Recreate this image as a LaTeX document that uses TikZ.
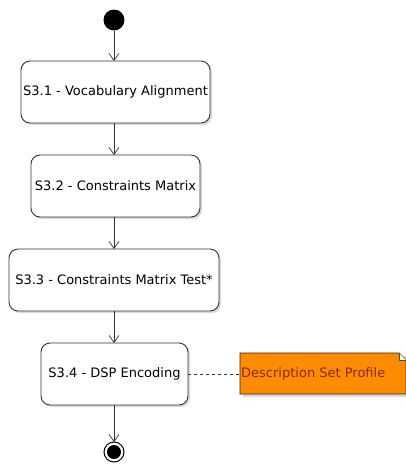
\documentclass[tikz,border=0pt]{standalone}
\usepackage{fontspec}
\setmainfont{DejaVu Sans}
\usetikzlibrary{arrows.meta,shadows}
\definecolor{noteorange}{HTML}{FF8C00}
\definecolor{notetext}{HTML}{8B2A10}
\begin{document}
\begin{tikzpicture}[x=1pt,y=-1pt,
  actbox/.style={draw=black!80, line width=0.9pt, rounded corners=9pt, fill=white,
    drop shadow={shadow xshift=2pt, shadow yshift=-2pt, fill=black!25, opacity=0.6}},
  flow/.style={draw=black!80, line width=0.7pt, -{Straight Barb[length=7pt,width=10pt]}},
  lbl/.style={font=\fontsize{13}{15}\selectfont}]
\useasboundingbox (0,0) rectangle (406,467);
% start
\fill[black] (114,20) circle (10.5);
\coordinate (start) at (114,30.5);
% boxes
\draw[actbox] (21,61) rectangle (210,123);
\node[lbl] (b1) at (115.5,92) {S3.1 - Vocabulary Alignment};
\draw[actbox] (31,155) rectangle (200,217);
\node[lbl] (b2) at (115.5,186) {S3.2 - Constraints Matrix};
\draw[actbox] (9,249) rectangle (219,311);
\node[lbl] (b3) at (114,280) {S3.3 - Constraints Matrix Test*};
\draw[actbox] (41,343) rectangle (188,405);
\node[lbl] (b4) at (114.5,374) {S3.4 - DSP Encoding};
\coordinate (b1t) at (114,61); \coordinate (b1b) at (114,123);
\coordinate (b2t) at (114,155); \coordinate (b2b) at (114,217);
\coordinate (b3t) at (114,249); \coordinate (b3b) at (114,311);
\coordinate (b4t) at (114,343); \coordinate (b4b) at (114,405);
\coordinate (b4r) at (188,374);
% end
\coordinate (endtop) at (114,442);
\draw[black, line width=1pt, fill=white] (114,452) circle (10);
\fill[black] (114,452) circle (7);
% connectors
\draw[flow] (start) -- (b1t);
\draw[flow] (b1b) -- (b2t);
\draw[flow] (b2b) -- (b3t);
\draw[flow] (b3b) -- (b4t);
\draw[flow] (b4b) -- (endtop);
% note
\fill[black!25, opacity=0.6] (243,356) -- (408,356) -- (408,397) -- (243,397) -- cycle;
\draw[fill=noteorange, draw=black!70!brown, line width=0.8pt]
  (240,353) -- (399,353) -- (406,360) -- (406,394) -- (240,394) -- cycle;
\draw[fill=white, draw=black!70, line width=0.6pt] (399,353) -- (399,360) -- (406,360);
\node[lbl, text=notetext, anchor=west, inner sep=0pt] (note) at (241,374) {Description Set Profile};
\coordinate (notel) at (240,374);
\draw[dashed, line width=0.6pt, black!80] (b4r) -- (notel);
\end{tikzpicture}
\end{document}
